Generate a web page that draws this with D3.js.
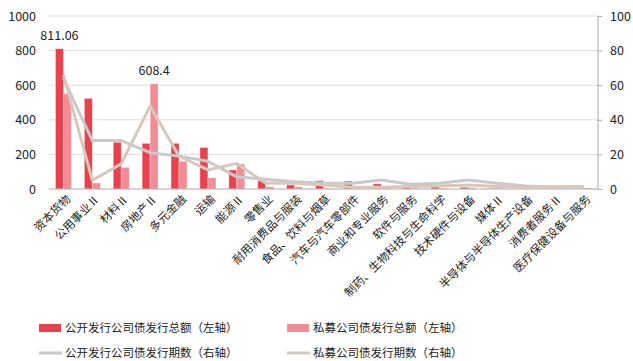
<!DOCTYPE html>
<html>
<head>
<meta charset="utf-8">
<script src="https://cdn.jsdelivr.net/npm/d3@7/dist/d3.min.js"></script>
<style>
  html, body { margin: 0; padding: 0; background: #fff; }
  svg { display: block; font-family: "Noto Sans CJK SC", "Noto Sans", sans-serif; }
</style>
</head>
<body>
<svg id="chart" width="633" height="361"></svg>
<script>
// Industry categories
const categories = [
  "资本货物", "公用事业Ⅱ", "材料Ⅱ", "房地产Ⅱ", "多元金融", "运输", "能源Ⅱ", "零售业",
  "耐用消费品与服装", "食品、饮料与烟草", "汽车与汽车零部件", "商业和专业服务", "软件与服务",
  "制药、生物科技与生命科学", "技术硬件与设备", "媒体Ⅱ", "半导体与半导体生产设备",
  "消费者服务Ⅱ", "医疗保健设备与服务"
];
// Issuance amounts (left axis)
const publicAmount  = [811.06, 524, 270, 264, 264, 240, 110, 48, 23, 48, 46, 30, 17, 21, 10, 3, 2, 2, 1];
const privateAmount = [551, 35, 125, 608.4, 160, 65, 145, 13, 13, 5, 8, 6, 4, 5, 8, 2, 1, 1, 6];
// Issuance counts (right axis)
const publicCount  = [64, 28, 28, 21, 19, 16, 7, 5.6, 4.2, 3.3, 3.3, 5.2, 2.7, 3.3, 5.2, 3.3, 1.7, 1, 1];
const privateCount = [66, 5, 14.5, 48, 19, 11, 14.8, 3.3, 3.3, 2.3, 1, 1, 1.5, 1.7, 2.3, 1.5, 1, 1.3, 1.5];
// Tick values
const leftTicks  = [0, 200, 400, 600, 800, 1000];
const rightTicks = [0, 20, 40, 60, 80, 100];
// Amounts shown as labels
const labelled = [
  { index: 0, series: "public", value: 811.06, text: "811.06" },
  { index: 3, series: "private", value: 608.4, text: "608.4" }
];
const legendItems = [
  { name: "公开发行公司债发行总额（左轴）", type: "bar", color: "#E8424F" },
  { name: "私募公司债发行总额（左轴）", type: "bar", color: "#F28C95" },
  { name: "公开发行公司债发行期数（右轴）", type: "line", color: "#C9C9C9" },
  { name: "私募公司债发行期数（右轴）", type: "line", color: "#D8C8BC" }
];

const svg = d3.select("#chart");
const plotLeft = 49, plotRight = 598, plotTop = 16, plotBottom = 189;

const x = d3.scaleBand().domain(categories).range([plotLeft, plotRight]).padding(0);
const yL = d3.scaleLinear().domain([0, 1000]).range([plotBottom, plotTop]);
const yR = d3.scaleLinear().domain([0, 100]).range([plotBottom, plotTop]);
const barW = 8;

// Gridlines
svg.append("g").selectAll("line").data(leftTicks.slice(1)).join("line")
  .attr("x1", plotLeft).attr("x2", plotRight)
  .attr("y1", d => yL(d)).attr("y2", d => yL(d))
  .attr("stroke", "#DDDDDD").attr("stroke-width", 1);

// Left axis labels
const axL = svg.append("g").attr("transform", `translate(${plotLeft},0)`)
  .call(d3.axisLeft(yL).tickValues(leftTicks).tickFormat(d3.format("d")).tickSize(0).tickPadding(13));
axL.select(".domain").remove();
axL.selectAll("text").attr("font-size", 12.5).attr("fill", "#222")
  .attr("font-family", "\"Noto Sans CJK SC\", sans-serif");

// Right axis
const axR = svg.append("g").attr("transform", `translate(${plotRight},0)`)
  .call(d3.axisRight(yR).tickValues(rightTicks).tickFormat(d3.format("d")).tickSize(4).tickPadding(8));
axR.select(".domain").attr("stroke", "#AAAAAA").attr("d", `M0,${plotTop}V${plotBottom}`);
axR.selectAll(".tick line").attr("stroke", "#AAAAAA");
axR.selectAll("text").attr("font-size", 12.5).attr("fill", "#222")
  .attr("font-family", "\"Noto Sans CJK SC\", sans-serif");

// Bars
const cx = d => x(d) + x.bandwidth() / 2;
svg.append("g").selectAll("rect").data(categories).join("rect")
  .attr("x", d => cx(d) - barW).attr("width", barW)
  .attr("y", (d, i) => yL(publicAmount[i]))
  .attr("height", (d, i) => plotBottom - yL(publicAmount[i]))
  .attr("fill", "#E8424F").attr("stroke", "rgba(255,255,255,0.45)").attr("stroke-width", 0.8);
svg.append("g").selectAll("rect").data(categories).join("rect")
  .attr("x", d => cx(d)).attr("width", barW)
  .attr("y", (d, i) => yL(privateAmount[i]))
  .attr("height", (d, i) => plotBottom - yL(privateAmount[i]))
  .attr("fill", "#F28C95").attr("stroke", "rgba(255,255,255,0.45)").attr("stroke-width", 0.8);

// Baseline
svg.append("line").attr("x1", plotLeft).attr("x2", plotRight).attr("y1", plotBottom).attr("y2", plotBottom)
  .attr("stroke", "#AAAAAA").attr("stroke-width", 1);

// Count lines
const line = arr => d3.line().x((d, i) => cx(categories[i])).y(d => yR(d))(arr);
svg.append("path").attr("d", line(publicCount)).attr("fill", "none")
  .attr("stroke", "#C9C9C9").attr("stroke-width", 3).attr("stroke-linejoin", "round");
svg.append("path").attr("d", line(privateCount)).attr("fill", "none")
  .attr("stroke", "#D8C8BC").attr("stroke-width", 3).attr("stroke-linejoin", "round");

// Value labels
svg.append("g").selectAll("text").data(labelled).join("text")
  .attr("x", d => cx(categories[d.index]) + (d.series === "public" ? -barW / 2 : barW / 2))
  .attr("y", d => yL(d.value) - 9)
  .attr("text-anchor", "middle").attr("font-size", 12.5).attr("fill", "#222")
  .text(d => d.text);

// Category labels
svg.append("g").selectAll("text").data(categories).join("text")
  .attr("transform", d => `translate(${cx(d) + 5},${plotBottom + 8}) rotate(-45)`)
  .attr("text-anchor", "end").attr("dy", "0.35em")
  .attr("font-size", 11.5).attr("fill", "#222")
  .text(d => d);

// Legend
const legendPos = [[39, 328], [287, 328], [39, 353], [287, 353]];
const lg = svg.append("g").selectAll("g").data(legendItems).join("g")
  .attr("transform", (d, i) => `translate(${legendPos[i][0]},${legendPos[i][1]})`);
lg.filter(d => d.type === "bar").append("rect")
  .attr("x", 0).attr("y", -4).attr("width", 22).attr("height", 8).attr("fill", d => d.color);
lg.filter(d => d.type === "line").append("line")
  .attr("x1", 0).attr("x2", 23).attr("y1", 0).attr("y2", 0)
  .attr("stroke", d => d.color).attr("stroke-width", 3);
lg.append("text").attr("x", 26).attr("dy", "0.35em")
  .attr("font-size", 11.5).attr("fill", "#222").text(d => d.name);
</script>
</body>
</html>
